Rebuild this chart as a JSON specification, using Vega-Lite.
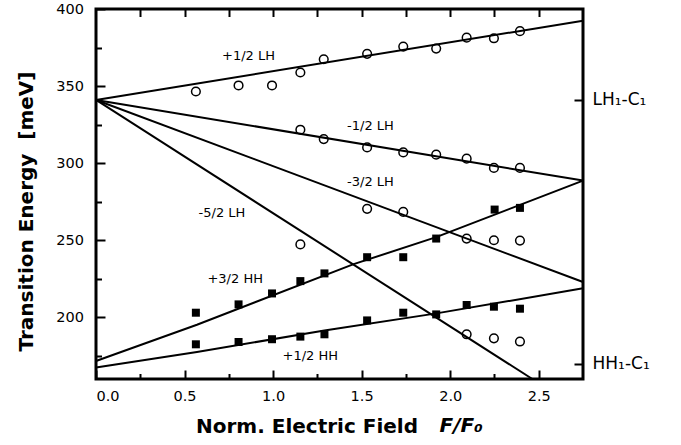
{
  "$schema": "https://vega.github.io/schema/vega-lite/v6.json",
  "width": 487,
  "height": 370,
  "autosize": {"type": "none"},
  "padding": {"left": 96, "top": 9, "right": 98, "bottom": 66},
  "background": "white",
  "config": {
    "font": "DejaVu Sans",
    "view": {"stroke": "black", "strokeWidth": 3},
    "axis": {"grid": false, "domain": false, "tickColor": "black", "tickWidth": 2, "labelColor": "black", "titleColor": "black", "labelFont": "DejaVu Sans", "titleFont": "DejaVu Sans"}
  },
  "datasets": {
    "lines": [
      {"series": "+1/2 LH", "x": 0, "y": 341},
      {"series": "+1/2 LH", "x": 2.75, "y": 392.4},
      {"series": "-1/2 LH", "x": 0, "y": 341},
      {"series": "-1/2 LH", "x": 2.75, "y": 288.7},
      {"series": "-3/2 LH", "x": 0, "y": 341},
      {"series": "-3/2 LH", "x": 2.75, "y": 222.9},
      {"series": "-5/2 LH", "x": 0, "y": 341},
      {"series": "-5/2 LH", "x": 2.464, "y": 160},
      {"series": "+3/2 HH", "x": 0, "y": 171.7},
      {"series": "+3/2 HH", "x": 0.57, "y": 195.2},
      {"series": "+3/2 HH", "x": 1.455, "y": 234.5},
      {"series": "+3/2 HH", "x": 1.921, "y": 252},
      {"series": "+3/2 HH", "x": 2.75, "y": 288.7},
      {"series": "+1/2 HH", "x": 0, "y": 167.5},
      {"series": "+1/2 HH", "x": 0.57, "y": 177.5},
      {"series": "+1/2 HH", "x": 1.29, "y": 191.5},
      {"series": "+1/2 HH", "x": 1.914, "y": 202.4},
      {"series": "+1/2 HH", "x": 2.75, "y": 218.8}
    ],
    "points": [
      {"type": "LH", "x": 0.564, "y": 346.5},
      {"type": "LH", "x": 0.805, "y": 350.4},
      {"type": "LH", "x": 0.994, "y": 350.4},
      {"type": "LH", "x": 1.154, "y": 358.8},
      {"type": "LH", "x": 1.286, "y": 367.4},
      {"type": "LH", "x": 1.531, "y": 370.9},
      {"type": "LH", "x": 1.735, "y": 375.6},
      {"type": "LH", "x": 1.921, "y": 374.3},
      {"type": "LH", "x": 2.093, "y": 381.4},
      {"type": "LH", "x": 2.247, "y": 381.0},
      {"type": "LH", "x": 2.394, "y": 385.6},
      {"type": "LH", "x": 1.154, "y": 321.7},
      {"type": "LH", "x": 1.286, "y": 315.6},
      {"type": "LH", "x": 1.531, "y": 310.2},
      {"type": "LH", "x": 1.735, "y": 307.0},
      {"type": "LH", "x": 1.921, "y": 305.5},
      {"type": "LH", "x": 2.093, "y": 302.9},
      {"type": "LH", "x": 2.247, "y": 296.9},
      {"type": "LH", "x": 2.394, "y": 296.9},
      {"type": "LH", "x": 1.531, "y": 270.4},
      {"type": "LH", "x": 1.735, "y": 268.4},
      {"type": "LH", "x": 2.093, "y": 251.1},
      {"type": "LH", "x": 2.247, "y": 250.0},
      {"type": "LH", "x": 2.394, "y": 249.8},
      {"type": "LH", "x": 1.154, "y": 247.3},
      {"type": "LH", "x": 2.093, "y": 189.0},
      {"type": "LH", "x": 2.247, "y": 186.4},
      {"type": "LH", "x": 2.394, "y": 184.3},
      {"type": "HH", "x": 0.564, "y": 203.0},
      {"type": "HH", "x": 0.805, "y": 208.4},
      {"type": "HH", "x": 0.994, "y": 215.5},
      {"type": "HH", "x": 1.154, "y": 223.5},
      {"type": "HH", "x": 1.29, "y": 228.5},
      {"type": "HH", "x": 1.531, "y": 239.0},
      {"type": "HH", "x": 1.735, "y": 239.0},
      {"type": "HH", "x": 1.921, "y": 251.1},
      {"type": "HH", "x": 2.251, "y": 269.9},
      {"type": "HH", "x": 2.394, "y": 271.0},
      {"type": "HH", "x": 0.564, "y": 182.5},
      {"type": "HH", "x": 0.805, "y": 184.0},
      {"type": "HH", "x": 0.994, "y": 185.8},
      {"type": "HH", "x": 1.154, "y": 187.5},
      {"type": "HH", "x": 1.29, "y": 189.0},
      {"type": "HH", "x": 1.531, "y": 198.0},
      {"type": "HH", "x": 1.735, "y": 203.0},
      {"type": "HH", "x": 1.921, "y": 201.9},
      {"type": "HH", "x": 2.093, "y": 208.0},
      {"type": "HH", "x": 2.247, "y": 206.9},
      {"type": "HH", "x": 2.394, "y": 205.6}
    ],
    "labels": [
      {"label": "+1/2 LH", "x": 0.861, "y": 369.6},
      {"label": "-1/2 LH", "x": 1.55, "y": 323.8},
      {"label": "-3/2 LH", "x": 1.55, "y": 287.6},
      {"label": "-5/2 LH", "x": 0.711, "y": 267.8},
      {"label": "+3/2 HH", "x": 0.786, "y": 224.6},
      {"label": "+1/2 HH", "x": 1.21, "y": 174.8}
    ],
    "xtitle": [
      {"label": "F/F₀", "x": 2.062, "y": 125.4}
    ]
  },
  "resolve": {"axis": {"x": "independent", "y": "independent"}},
  "layer": [
    {
      "data": {"name": "lines"},
      "mark": {"type": "line", "color": "black", "strokeWidth": 2},
      "encoding": {
        "x": {
          "field": "x", "type": "quantitative",
          "scale": {"domain": [0, 2.75], "nice": false, "zero": false},
          "axis": {
            "orient": "bottom",
            "values": [0, 0.25, 0.5, 0.75, 1, 1.25, 1.5, 1.75, 2, 2.25, 2.5],
            "labelExpr": "datum.value % 0.5 === 0 ? format(datum.value, '.1f') : ''",
            "tickSize": {"condition": {"test": "datum.value % 0.5 === 0", "value": -9}, "value": -5.5},
            "labelFontSize": 14.5,
            "labelPadding": 19.5,
            "title": "Norm. Electric Field",
            "titleFontSize": 20,
            "titleFontWeight": "bold",
            "titleX": 210.5,
            "titleY": 53.5,
            "titleAlign": "center",
            "titleBaseline": "alphabetic"
          }
        },
        "y": {
          "field": "y", "type": "quantitative",
          "scale": {"domain": [160, 400], "nice": false, "zero": false},
          "axis": {
            "orient": "left",
            "values": [175, 200, 225, 250, 275, 300, 325, 350, 375, 400],
            "labelExpr": "datum.value % 50 === 0 ? datum.label : ''",
            "tickSize": {"condition": {"test": "datum.value % 50 === 0", "value": -9}, "value": -5.5},
            "labelFontSize": 14.5,
            "labelPadding": 21.5,
            "title": "Transition Energy\u00a0\u00a0[meV]",
            "titleFontSize": 20,
            "titleFontWeight": "bold",
            "titleAngle": 270,
            "titleX": -64,
            "titleY": 202,
            "titleAlign": "center",
            "titleBaseline": "alphabetic"
          }
        },
        "detail": {"field": "series"}
      }
    },
    {
      "data": {"name": "points"},
      "transform": [{"filter": "datum.type === 'LH'"}],
      "mark": {"type": "point", "shape": "circle", "filled": false, "color": "black", "strokeWidth": 1.5, "size": 75, "opacity": 1},
      "encoding": {
        "x": {
          "field": "x", "type": "quantitative",
          "axis": {
            "orient": "top",
            "values": [0.25, 0.5, 0.75, 1, 1.25, 1.5, 1.75, 2, 2.25, 2.5],
            "labels": false,
            "tickSize": -7.5,
            "title": null
          }
        },
        "y": {
          "field": "y", "type": "quantitative",
          "axis": {
            "orient": "right",
            "values": [170, 341],
            "labelExpr": "datum.value > 300 ? 'LH₁-C₁' : 'HH₁-C₁'",
            "tickSize": -9,
            "labelFontSize": 17,
            "labelPadding": 18,
            "title": null
          }
        }
      }
    },
    {
      "data": {"name": "points"},
      "transform": [{"filter": "datum.type === 'HH'"}],
      "mark": {"type": "square", "color": "black", "size": 64, "opacity": 1},
      "encoding": {
        "x": {"field": "x", "type": "quantitative", "axis": null},
        "y": {"field": "y", "type": "quantitative", "axis": null}
      }
    },
    {
      "data": {"name": "labels"},
      "mark": {"type": "text", "color": "black", "fontSize": 13, "font": "DejaVu Sans"},
      "encoding": {
        "x": {"field": "x", "type": "quantitative", "axis": null},
        "y": {"field": "y", "type": "quantitative", "axis": null},
        "text": {"field": "label"}
      }
    },
    {
      "data": {"name": "xtitle"},
      "mark": {"type": "text", "color": "black", "fontSize": 20, "font": "DejaVu Sans", "fontWeight": "bold", "fontStyle": "italic", "baseline": "alphabetic", "align": "center"},
      "encoding": {
        "x": {"field": "x", "type": "quantitative", "axis": null},
        "y": {"field": "y", "type": "quantitative", "axis": null},
        "text": {"field": "label"}
      }
    }
  ]
}
